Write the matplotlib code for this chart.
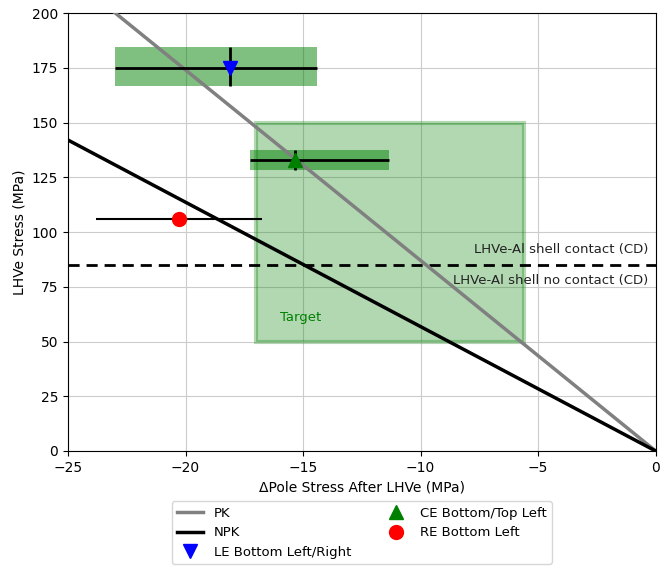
import matplotlib
matplotlib.use("Agg")
import matplotlib.pyplot as plt
import numpy as np
from matplotlib.patches import Rectangle
from matplotlib.lines import Line2D

# --- data ---
pk_x = [-25.0, 0.0]
pk_y = [217.5, 0.0]
npk_x = [-25.0, 0.0]
npk_y = [142.0, 0.0]

contact_level = 85.0

target_x = [-17.0, -5.6]
target_y = [50.0, 150.0]

le_x, le_y = -18.1, 175.0
le_xerr = [4.9, 3.7]
le_yerr = [8.5, 9.5]

ce_x, ce_y = -15.35, 133.0
ce_xerr = [1.9, 4.0]
ce_yerr = [4.5, 4.5]

re_x, re_y = -20.3, 106.0
re_xerr = [3.5, 3.55]

fig, ax = plt.subplots(figsize=(6.67, 5.67), dpi=100)
fig.subplots_adjust(left=0.102, right=0.983, top=0.977, bottom=0.2046)

ax.plot(pk_x, pk_y, color="gray", lw=2.5, zorder=3)
ax.plot(npk_x, npk_y, color="black", lw=2.5, zorder=3)

ax.axhline(contact_level, color="black", ls="--", lw=2, dashes=(4, 2.5))
ax.text(-0.3, contact_level + 4, "LHVe-Al shell contact (CD)", ha="right", va="bottom",
        fontsize=9.5, color="#222222")
ax.text(-0.3, contact_level - 4, "LHVe-Al shell no contact (CD)", ha="right", va="top",
        fontsize=9.5, color="#222222")

# target region
ax.add_patch(Rectangle((target_x[0], target_y[0]), target_x[1] - target_x[0],
                       target_y[1] - target_y[0], facecolor="green", edgecolor="green",
                       alpha=0.3, lw=3, zorder=1))
ax.text(-16.0, 61, "Target", color="green", fontsize=9.5, ha="left", va="center")

# uncertainty boxes
for x, y, xe, ye in [(le_x, le_y, le_xerr, le_yerr), (ce_x, ce_y, ce_xerr, ce_yerr)]:
    ax.fill_between([x - xe[0], x + xe[1]], y - ye[0], y + ye[1], color="green",
                    alpha=0.5, lw=0, zorder=2)

ax.errorbar(le_x, le_y, xerr=[[le_xerr[0]], [le_xerr[1]]], yerr=[[le_yerr[0]], [le_yerr[1]]],
            fmt="v", color="blue", ecolor="black", elinewidth=2, ms=10, zorder=4)
ax.errorbar(ce_x, ce_y, xerr=[[ce_xerr[0]], [ce_xerr[1]]], yerr=[[ce_yerr[0]], [ce_yerr[1]]],
            fmt="^", color="green", ecolor="black", elinewidth=2, ms=10, zorder=4)
ax.errorbar(re_x, re_y, xerr=[[re_xerr[0]], [re_xerr[1]]],
            fmt="o", color="red", ecolor="black", elinewidth=1.5, ms=10, zorder=4)

ax.set_xlim(-25, 0)
ax.set_ylim(0, 200)
ax.set_xticks(np.arange(-25, 1, 5))
ax.set_yticks(np.arange(0, 201, 25))
ax.grid(True, color="#cccccc", lw=0.8)
ax.set_axisbelow(True)
ax.set_xlabel("\u0394Pole Stress After LHVe (MPa)")
ax.set_ylabel("LHVe Stress (MPa)")

handles = [
    Line2D([], [], color="gray", lw=2.5),
    Line2D([], [], color="black", lw=2.5),
    Line2D([], [], color="blue", marker="v", ls="none", ms=10),
    Line2D([], [], color="green", marker="^", ls="none", ms=10),
    Line2D([], [], color="red", marker="o", ls="none", ms=10),
]
labels = ["PK", "NPK", "LE Bottom Left/Right", "CE Bottom/Top Left", "RE Bottom Left"]
ax.legend(handles, labels, loc="upper center", bbox_to_anchor=(0.5, -0.1),
          ncol=2, fontsize=9.5, columnspacing=2.4, labelspacing=0.5)

fig.savefig("out.png", dpi=100)
